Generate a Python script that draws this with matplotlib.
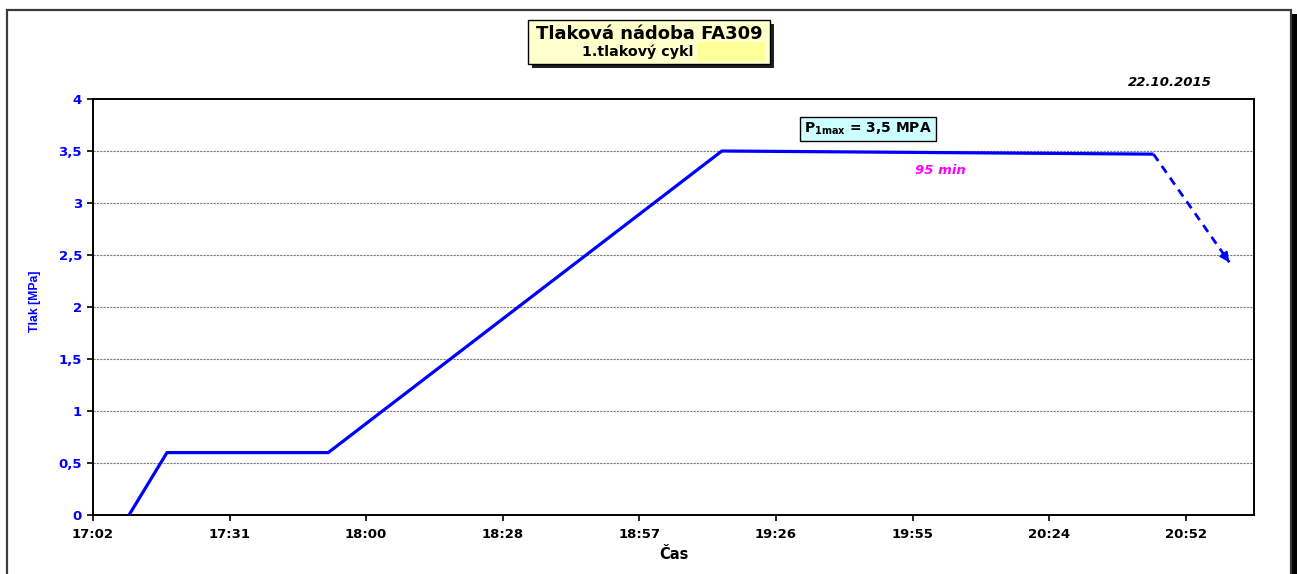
import math
import matplotlib
matplotlib.use("Agg")
import matplotlib.pyplot as plt
from matplotlib.patches import Rectangle
from matplotlib.ticker import FixedLocator, FuncFormatter

plt.rcParams['font.family'] = ['DejaVu Sans']

# Pressure cycle: time in minutes since midnight, pressure in MPa
time_min = [17 * 60 + 10, 17 * 60 + 18, 17 * 60 + 52, 19 * 60 + 15, 20 * 60 + 46]
pressure = [0.0, 0.6, 0.6, 3.5, 3.47]
# Expected release after the hold (dashed continuation)
release_time = [20 * 60 + 46, 21 * 60 + 2]
release_pressure = [3.47, 2.43]

# Axis scale as fractions of a day: min 0.71, max 0.88, step 0.02
x_min = 0.71 * 1440
x_max = 0.88 * 1440
x_step = 0.02 * 1440
x_ticks = [x_min + k * x_step for k in range(9)]
y_ticks = [0, 0.5, 1, 1.5, 2, 2.5, 3, 3.5, 4]


def hhmm(v, pos=None):
    m = int(math.floor(v + 1e-6))
    return f"{m // 60}:{m % 60:02d}"


W, H = 1297, 574
fig = plt.figure(figsize=(W / 100, H / 100), dpi=100)

# Chart-area frame with shadow on the right
fig.add_artist(Rectangle((1291 / W, 0), 6 / W, 1 - 14 / H, transform=fig.transFigure,
                         facecolor='black', edgecolor='none', zorder=-2))
fig.add_artist(Rectangle((7 / W, -0.01), 1284 / W, 1.01 - 10 / H, transform=fig.transFigure,
                         facecolor='white', edgecolor='#3a3a3a', lw=1.6, zorder=-1))

ax = fig.add_axes([93 / W, 1 - 515 / H, (1254 - 93) / W, (515 - 99) / H])
ax.set_zorder(2)
ax.set_xlim(x_min, x_max)
ax.set_ylim(0, 4)

ax.plot(time_min, pressure, color='#0000FF', lw=2.3, solid_capstyle='butt', zorder=3)
ax.plot(release_time, release_pressure, color='#0000FF', lw=2.0, ls=(0, (3, 2.2)), zorder=3)
dx = release_time[1] - release_time[0]
dy = release_pressure[1] - release_pressure[0]
ax.annotate('', xy=(release_time[1], release_pressure[1]),
            xytext=(release_time[1] - dx * 0.08, release_pressure[1] - dy * 0.08),
            arrowprops=dict(arrowstyle='-|>', color='#0000FF', lw=1.5,
                            mutation_scale=14, shrinkA=0, shrinkB=0), zorder=4)

for y in y_ticks[1:-1]:
    ax.axhline(y, color='#7a7a7a', lw=0.8, ls=(0, (2, 1)), zorder=1)

ax.xaxis.set_major_locator(FixedLocator(x_ticks))
ax.xaxis.set_major_formatter(FuncFormatter(hhmm))
ax.yaxis.set_major_locator(FixedLocator(y_ticks))
ax.yaxis.set_major_formatter(FuncFormatter(lambda v, p: f"{v:g}".replace('.', ',')))

for s in ax.spines.values():
    s.set_linewidth(1.4)
    s.set_color('black')
ax.tick_params(axis='both', direction='out', length=4, width=1.2, top=False, right=False)
ax.tick_params(axis='x', pad=5)
ax.tick_params(axis='y', pad=4)
for lab in ax.get_xticklabels():
    lab.set_fontweight('bold')
    lab.set_fontsize(9.5)
    lab.set_color('black')
for lab in ax.get_yticklabels():
    lab.set_fontweight('bold')
    lab.set_fontsize(9.5)
    lab.set_color('#0000FF')

ax.set_xlabel('Čas', fontsize=10.5, fontweight='bold', labelpad=5)
fig.text(35 / W, 1 - 301 / H, 'Tlak [MPa]', rotation=90, ha='center', va='center',
         fontsize=8.8, fontweight='bold', color='#0000FF', family=['Liberation Sans'])

# Title box with shadow
fig.add_artist(Rectangle((532 / W, 1 - 68 / H), 242 / W, 44 / H, transform=fig.transFigure,
                         facecolor='#202020', edgecolor='none', zorder=5))
fig.add_artist(Rectangle((528 / W, 1 - 64 / H), 242 / W, 44 / H, transform=fig.transFigure,
                         facecolor='#FFFFCC', edgecolor='black', lw=1.0, zorder=6))
fig.add_artist(Rectangle((697 / W, 1 - 61 / H), 68 / W, 19 / H, transform=fig.transFigure,
                         facecolor='#FFFF99', edgecolor='none', zorder=7))
fig.text(649 / W, 1 - 34 / H, 'Tlaková nádoba FA309', ha='center', va='center',
         fontsize=13, fontweight='bold', zorder=8)
fig.text(582 / W, 1 - 52 / H, '1.tlakový cykl', ha='left', va='center',
         fontsize=10.3, fontweight='bold', zorder=8)

fig.text(1212 / W, 1 - 83 / H, '22.10.2015', ha='right', va='center',
         fontsize=9.5, fontweight='bold', style='italic')

# Maximum pressure label
fig.text(868 / W, 1 - 129 / H, r'P$_{\mathbf{1max}}$ = 3,5 MPA', ha='center', va='center',
         fontsize=10, fontweight='bold', zorder=8,
         bbox=dict(boxstyle='square,pad=0.3', facecolor='#CCFFFF', edgecolor='black', lw=1.0))
fig.text(940 / W, 1 - 171 / H, '95 min', ha='center', va='center',
         fontsize=9.5, fontweight='bold', style='italic', color='#FF00FF')

fig.savefig('out.png', dpi=100)
